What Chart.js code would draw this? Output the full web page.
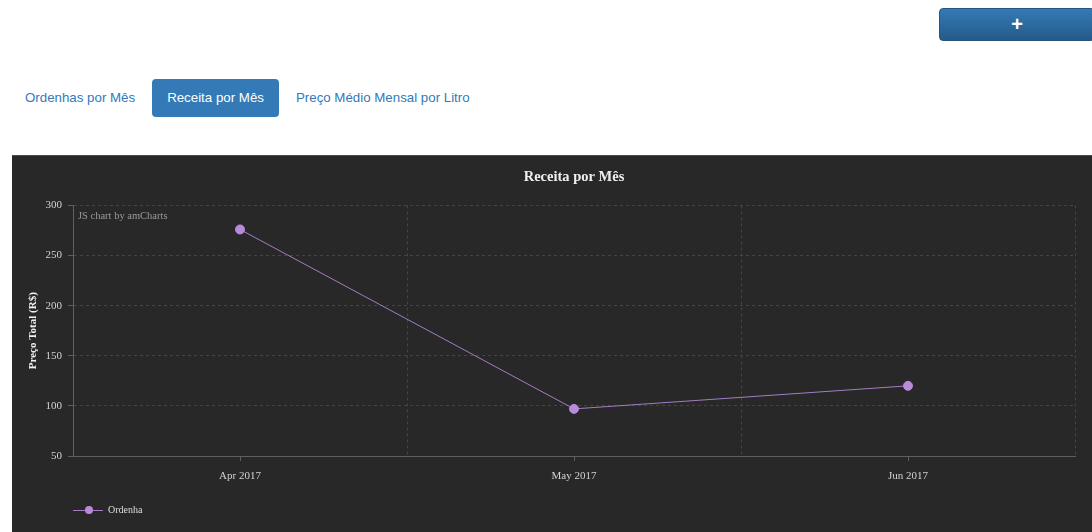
<!DOCTYPE html>
<html lang="pt-BR">
<head>
<meta charset="utf-8">
<title>Receita por Mês</title>
<script src="https://cdn.jsdelivr.net/npm/chart.js@4"></script>
<style>
  body {
    margin: 0;
    width: 1092px;
    height: 532px;
    overflow: hidden;
    background: #fff;
    font-family: "Liberation Sans", Arial, sans-serif;
    position: relative;
  }
  .btn-add {
    position: absolute;
    left: 939px;
    top: 8px;
    width: 156px;
    height: 33px;
    box-sizing: border-box;
    border: 1px solid #245580;
    border-radius: 4px;
    background: linear-gradient(to bottom, #337ab7 0, #265a88 100%);
    color: #fff;
    font-weight: bold;
    font-size: 20px;
    line-height: 30px;
    text-align: center;
  }
  .tabs {
    position: absolute;
    left: 10px;
    top: 79px;
    margin: 0;
    padding: 0;
    list-style: none;
    display: flex;
  }
  .tabs li { margin-right: 2px; }
  .tabs a {
    display: block;
    padding: 10px 15px;
    font-size: 13.3px;
    line-height: 18px;
    color: #337ab7;
    text-decoration: none;
    border-radius: 4px;
  }
  .tabs li.active a {
    background: #337ab7;
    color: #fff;
  }
  .panel {
    position: absolute;
    left: 12px;
    top: 155px;
    width: 1080px;
    height: 377px;
    background: #282828;
    border-top: 1px solid #4a4a4a;
    box-sizing: border-box;
  }
  #receitaChart {
    position: absolute;
    left: 12px;
    top: 155px;
  }
</style>
</head>
<body>
<div class="btn-add">+</div>
<ul class="tabs">
  <li><a href="#">Ordenhas por Mês</a></li>
  <li class="active"><a href="#">Receita por Mês</a></li>
  <li><a href="#">Preço Médio Mensal por Litro</a></li>
</ul>
<div class="panel"></div>
<canvas id="receitaChart" width="1080" height="377"></canvas>

<script>
// Receita total por mês (R$)
const meses = ['Apr 2017', 'May 2017', 'Jun 2017'];
const receita = [276, 97, 120];
const serieNome = 'Ordenha';
const yMin = 50;
const yMax = 300;
const yStep = 50;

const serif = '"Liberation Serif", "Times New Roman", serif';
const lineColor = '#a47cc4';
const pointColor = '#b98ad9';
const gridColor = '#454545';
const axisColor = '#606060';
const tickColor = '#d2d2d2';

// legend marker: short line with a dot in the middle
function legendMarker() {
    const c = document.createElement('canvas');
    c.width = 30;
    c.height = 10;
    const g = c.getContext('2d');
    g.strokeStyle = lineColor;
    g.lineWidth = 1;
    g.beginPath();
    g.moveTo(0, 5.5);
    g.lineTo(30, 5.5);
    g.stroke();
    g.fillStyle = pointColor;
    g.beginPath();
    g.arc(16, 5, 4, 0, Math.PI * 2);
    g.fill();
    return c;
}

// tick marks at category centres + credit text
const extras = {
    id: 'extras',
    afterDraw(chart) {
        const ctx = chart.ctx;
        const x = chart.scales.x;
        ctx.save();
        ctx.strokeStyle = axisColor;
        ctx.lineWidth = 1;
        x.ticks.forEach((t, i) => {
            const px = Math.round(x.getPixelForTick(i)) + 0.5;
            ctx.beginPath();
            ctx.moveTo(px, x.top);
            ctx.lineTo(px, x.top + 5);
            ctx.stroke();
        });
        ctx.fillStyle = '#9a9a9a';
        ctx.font = '10.5px ' + serif;
        ctx.textBaseline = 'middle';
        ctx.fillText('JS chart by amCharts', chart.chartArea.left + 5, chart.chartArea.top + 11);
        ctx.restore();
    }
};

let receitaChart;

function initChart() {
    const ctx = document.getElementById('receitaChart').getContext('2d');
    receitaChart = new Chart(ctx, {
        type: 'line',
        data: {
            labels: meses,
            datasets: [{
                label: serieNome,
                data: receita,
                borderColor: lineColor,
                borderWidth: 1,
                pointBackgroundColor: pointColor,
                pointBorderColor: pointColor,
                pointRadius: 4.5,
                pointHoverRadius: 4.5,
                tension: 0
            }]
        },
        options: {
            responsive: false,
            devicePixelRatio: 1,
            animation: false,
            layout: {
                padding: { left: 11, right: 17, top: 0, bottom: 7 }
            },
            plugins: {
                title: {
                    display: true,
                    fullSize: false,
                    text: 'Receita por Mês',
                    color: '#efefef',
                    font: { family: serif, size: 14.5, weight: 'bold' },
                    padding: { top: 14, bottom: 19 }
                },
                legend: {
                    position: 'bottom',
                    align: 'start',
                    fullSize: false,
                    labels: {
                        usePointStyle: true,
                        pointStyle: legendMarker(),
                        pointStyleWidth: 30,
                        padding: 0,
                        color: '#dedede',
                        font: { family: serif, size: 10 }
                    }
                },
                tooltip: { enabled: false }
            },
            scales: {
                x: {
                    offset: true,
                    afterFit: (scale) => { scale.height = 49; },
                    grid: {
                        offset: true,
                        color: gridColor,
                        drawTicks: false
                    },
                    border: { color: axisColor, dash: [3, 3] },
                    ticks: {
                        color: tickColor,
                        font: { family: serif, size: 11 },
                        padding: 14
                    }
                },
                y: {
                    min: yMin,
                    max: yMax,
                    afterFit: (scale) => { scale.width = 50; },
                    grid: {
                        color: gridColor,
                        tickColor: axisColor,
                        tickLength: 5,
                        tickBorderDash: []
                    },
                    border: { color: axisColor, dash: [3, 3] },
                    ticks: {
                        stepSize: yStep,
                        color: tickColor,
                        font: { family: serif, size: 11 },
                        padding: 6
                    },
                    title: {
                        display: true,
                        text: 'Preço Total (R$)',
                        color: '#efefef',
                        font: { family: serif, size: 11, weight: 'bold' },
                        padding: { top: 4, bottom: 0 }
                    }
                }
            }
        },
        plugins: [extras]
    });
}

document.addEventListener('DOMContentLoaded', initChart);
</script>
</body>
</html>
